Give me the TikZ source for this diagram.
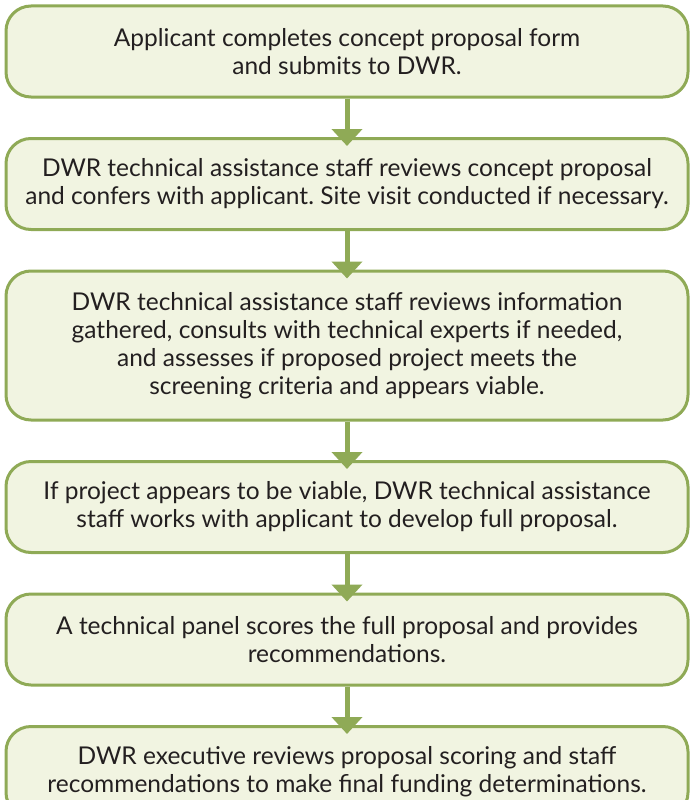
\documentclass[tikz,border=0pt]{standalone}
\usepackage{fontspec}
\setmainfont{Lato}
\usepackage{tikz}
\usetikzlibrary{arrows.meta,positioning}
\definecolor{boxgreen}{RGB}{143,170,86}
\definecolor{boxfill}{RGB}{241,244,225}
\definecolor{boxtext}{RGB}{35,31,32}
\frenchspacing
\tikzset{stepbox/.style={draw=boxgreen, fill=boxfill, line width=3pt, rounded corners=25pt,
    minimum width=682pt, minimum height=91pt, inner sep=0pt, align=center, text=boxtext,
    font=\fontsize{24.5pt}{28pt}\selectfont}}
\tikzset{flowarrow/.style={draw=boxgreen, fill=boxgreen, line width=5pt,
    -{Triangle[width=30pt,length=17pt]}, shorten >=-9pt}}

\begin{document}
\begin{tikzpicture}
\useasboundingbox (0,0) rectangle (691pt,-800pt);

\node[stepbox] (b1) at (347pt,-51.5pt) {Applicant completes concept proposal form\\and submits to DWR.};
\node[stepbox, below=38.5pt of b1] (b2) {DWR technical assistance staff reviews concept proposal\\and confers with applicant. Site visit conducted if necessary.};
\node[stepbox, below=38.5pt of b2, minimum height=149pt] (b3) {DWR technical assistance staff reviews information\\gathered, consults with technical experts if needed,\\and assesses if proposed project meets the\\screening criteria and appears viable.};
\node[stepbox, below=38.5pt of b3] (b4) {If project appears to be viable, DWR technical assistance\\staff works with applicant to develop full proposal.};
\node[stepbox, below=38.5pt of b4] (b5) {A technical panel scores the full proposal and provides\\recommendations.};
\node[stepbox, below=38.5pt of b5] (b6) {DWR executive reviews proposal scoring and staff\\recommendations to make final funding determinations.};

\foreach \a/\b in {b1/b2,b2/b3,b3/b4,b4/b5,b5/b6}
  \draw[flowarrow] (\a.south) -- (\b.north);

\end{tikzpicture}
\end{document}
